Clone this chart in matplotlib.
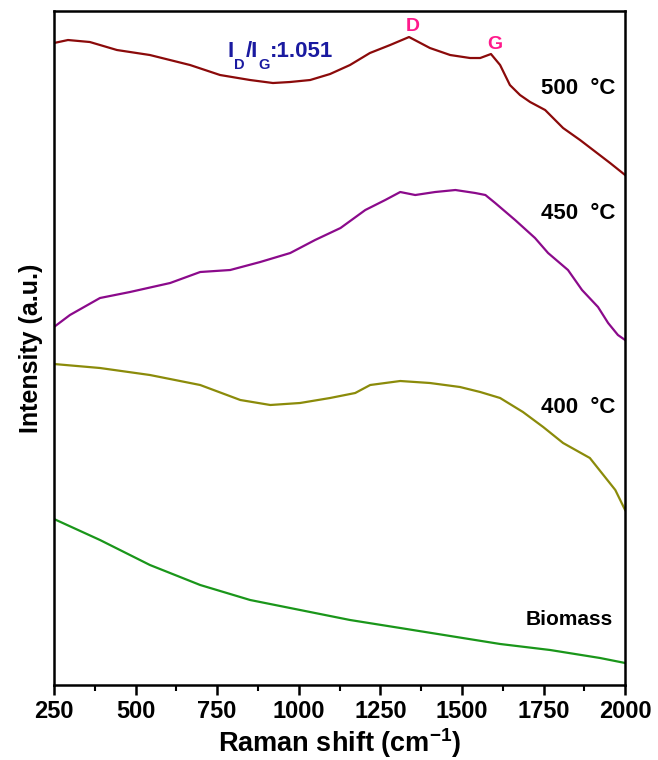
import matplotlib.pyplot as plt
from matplotlib.ticker import MultipleLocator, NullLocator

plt.rcParams['font.family'] = ['Liberation Sans', 'DejaVu Sans']
plt.rcParams['font.weight'] = 'bold'
plt.rcParams['mathtext.fontset'] = 'custom'
plt.rcParams['mathtext.rm'] = 'Liberation Sans:bold'
plt.rcParams['mathtext.bf'] = 'Liberation Sans:bold'
plt.rcParams['mathtext.default'] = 'regular'

# Raman spectra, intensity in arbitrary units (stacked offsets included)
shift_500 = [250, 293, 360, 443, 544, 667, 759, 851, 921, 973, 1035, 1096,
             1157, 1218, 1280, 1338, 1402, 1464, 1525, 1556, 1589, 1617,
             1647, 1678, 1709, 1755, 1810, 1862, 1914, 1954, 2000]
int_500 = [642, 645, 643, 635, 630, 620, 610, 605, 602, 603, 605, 611,
           620, 632, 640, 648, 637, 630, 627, 627, 631, 620,
           600, 590, 583, 575, 557, 545, 532, 522, 510]

shift_450 = [250, 299, 391, 483, 606, 698, 790, 882, 974, 1050, 1128, 1204,
             1265, 1311, 1357, 1418, 1480, 1541, 1572, 1602, 1663, 1724,
             1764, 1825, 1868, 1917, 1948, 1978, 2000]
int_450 = [358, 370, 387, 393, 402, 413, 415, 423, 432, 445, 457, 475,
           485, 493, 490, 493, 495, 492, 490, 482, 465, 447,
           432, 415, 395, 378, 362, 350, 345]

shift_400 = [250, 391, 544, 698, 821, 913, 1004, 1096, 1173, 1219, 1311,
             1402, 1494, 1556, 1617, 1687, 1749, 1810, 1892, 1970, 2000]
int_400 = [321, 317, 310, 300, 285, 280, 282, 287, 292, 300, 304,
           302, 298, 293, 287, 273, 258, 242, 227, 195, 175]

shift_bio = [250, 391, 544, 698, 851, 1004, 1157, 1311, 1464, 1617, 1770,
             1923, 2000]
int_bio = [166, 145, 120, 100, 85, 75, 65, 57, 49, 41, 35, 27, 22]

series = [
    (shift_500, int_500, '#8b0a0a', '500  °C', 597, 1970, 16),
    (shift_450, int_450, '#8b0a8b', '450  °C', 472, 1970, 16),
    (shift_400, int_400, '#8b8b0a', '400  °C', 278, 1970, 16),
    (shift_bio, int_bio, '#1a961a', 'Biomass', 65, 1962, 15),
]

fig = plt.figure(figsize=(6.58, 7.60), dpi=100)
ax = fig.add_axes([0.082, 0.0987, 0.868, 0.8868])

for x, y, color, label, label_y, label_x, size in series:
    ax.plot(x, y, color=color, lw=1.6)
    ax.text(label_x, label_y, label, ha='right', va='center',
            fontsize=size, fontweight='bold', color='black')

# band markers
ax.text(1350, 659, 'D', color='#ff1a8c', fontsize=14, fontweight='bold',
        ha='center', va='center')
ax.text(1601, 641, 'G', color='#ff1a8c', fontsize=14, fontweight='bold',
        ha='center', va='center')

# I_D/I_G ratio, built piece by piece so the subscripts sit low
blue = '#1a1aa0'
big = dict(color=blue, fontsize=16, fontweight='bold')
small = dict(color=blue, fontsize=10.5, fontweight='bold')
t_i = ax.text(783, 628, 'I', ha='left', va='baseline', **big)
t_d = ax.annotate('D', xy=(1, 0), xycoords=t_i, xytext=(0.3, 3),
                  textcoords='offset points', ha='left', va='top', **small)
t_i2 = ax.annotate('/I', xy=(1, 0), xycoords=(t_d, t_i), xytext=(0.3, 0),
                   textcoords='offset points', ha='left', va='bottom', **big)
t_g = ax.annotate('G', xy=(1, 0), xycoords=t_i2, xytext=(0.3, 3),
                  textcoords='offset points', ha='left', va='top', **small)
ax.annotate(':1.051', xy=(1, 0), xycoords=(t_g, t_i), xytext=(0.3, 0),
            textcoords='offset points', ha='left', va='bottom', **big)

ax.set_xlim(250, 2000)
ax.set_ylim(0, 674)
ax.xaxis.set_major_locator(MultipleLocator(250))
ax.xaxis.set_minor_locator(MultipleLocator(125))
ax.yaxis.set_major_locator(NullLocator())
ax.tick_params(axis='x', which='major', direction='out', length=7, width=1.8,
               labelsize=17, pad=4)
ax.tick_params(axis='x', which='minor', direction='out', length=4, width=1.5)
for lab in ax.get_xticklabels():
    lab.set_fontweight('bold')
for sp in ax.spines.values():
    sp.set_linewidth(1.8)

ax.set_xlabel('Raman shift (cm$^{-1}$)', fontsize=19.5,
              fontweight='bold', labelpad=2)
ax.set_ylabel('Intensity (a.u.)', fontsize=18, fontweight='bold', labelpad=8)

fig.savefig('out.png', dpi=100)
